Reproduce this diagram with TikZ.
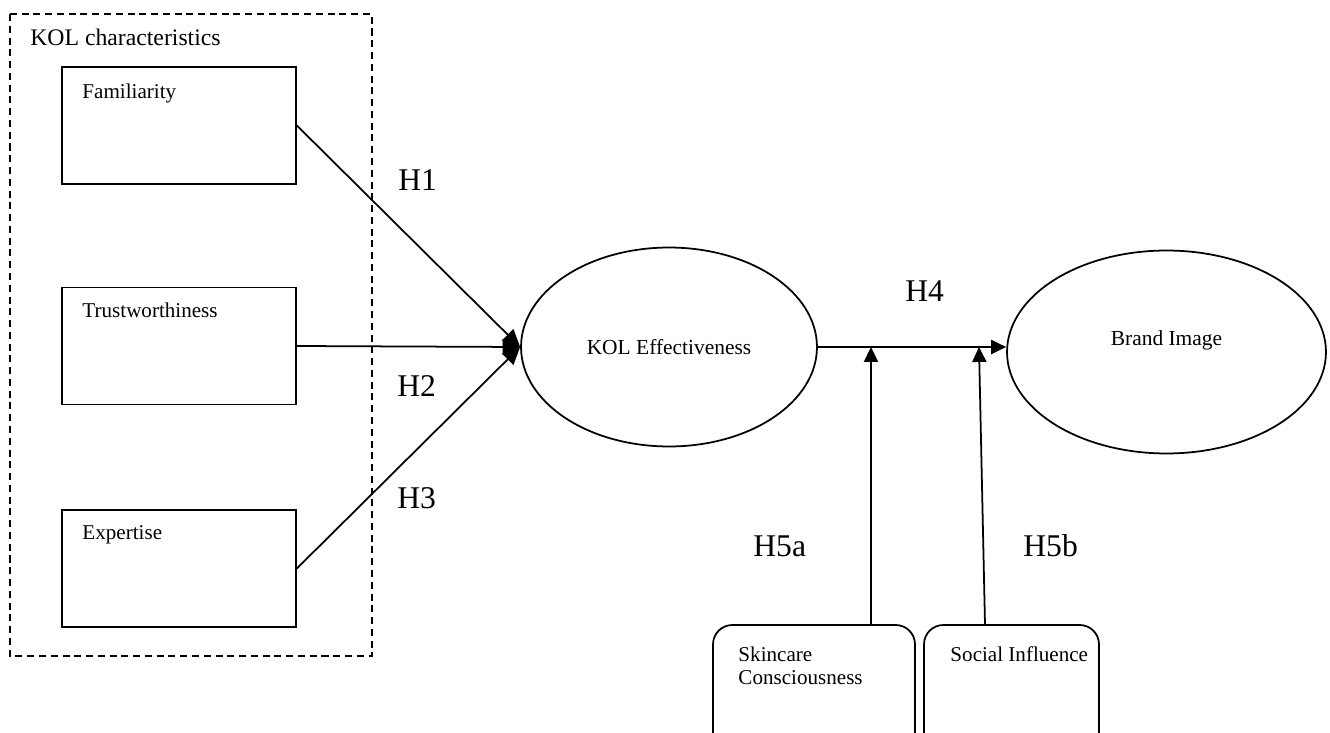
\documentclass[tikz,border=0pt]{standalone}
\usepackage{fontspec}
\setmainfont{Liberation Serif}
\usetikzlibrary{shapes.geometric,arrows.meta}

\begin{document}
\begin{tikzpicture}[x=0.02cm,y=-0.02cm]
    \tikzstyle{kolbox}=[draw,line width=1pt,minimum width=4.68cm,minimum height=2.34cm,inner sep=0pt]
    \tikzstyle{modbox}=[draw,line width=1pt,rounded corners=11pt,minimum height=2.6cm,inner sep=0pt]
    \tikzstyle{construct}=[draw,ellipse,line width=1pt,inner sep=0pt]
    \tikzstyle{boxtext}=[anchor=base west,inner sep=0pt,align=left,font=\fontsize{12}{13}\selectfont]
    \tikzstyle{hyp}=[anchor=base west,inner sep=0pt,font=\fontsize{18}{20}\selectfont]
    \tikzstyle{vectors}=[-{Triangle[length=8.5pt,width=8pt]},line width=1pt]
    \tikzstyle{cvectors}=[-{Triangle[length=10pt,width=9pt]},line width=1pt]
    \useasboundingbox (0,0) rectangle (1330,733);
    \clip (0,0) rectangle (1330,733);

    % KOL characteristics
    \draw[line width=1pt,dash pattern=on 4pt off 2.7pt] (10,14) rectangle (372,656);
    \node[anchor=base west,inner sep=0pt,font=\fontsize{13.5}{15}\selectfont] (kolchar) at (30,46) {KOL characteristics};
    \node[kolbox] (fam) at (179,125.5) {};
    \node[kolbox] (trust) at (179,346) {};
    \node[kolbox] (exp) at (179,568.5) {};
    \node[boxtext] (famtxt) at ([shift={(21,32)}]fam.north west) {Familiarity};
    \node[boxtext] (trusttxt) at ([shift={(21,31)}]trust.north west) {Trustworthiness};
    \node[boxtext] (exptxt) at ([shift={(21,30)}]exp.north west) {Expertise};

    % constructs
    \node[construct,minimum width=5.92cm,minimum height=3.98cm,font=\fontsize{12.2}{13.5}\selectfont] (kole) at (669,347) {KOL Effectiveness};
    \node[construct,minimum width=6.38cm,minimum height=4.06cm] (brand) at (1166.5,352) {};
    \node[inner sep=0pt,font=\fontsize{12.2}{13.5}\selectfont] (brandtxt) at ([shift={(0,-12)}]brand.center) {Brand Image};

    % moderators
    \node[modbox,minimum width=4.04cm] (skin) at (814,690) {};
    \node[modbox,minimum width=3.5cm] (soc) at (1011.5,690) {};
    \node[boxtext] (skintxt) at ([shift={(26,60)}]skin.north west) {Skincare\\Consciousness};
    \node[boxtext] (soctxt) at ([shift={(27,37)}]soc.north west) {Social Influence};

    \draw[cvectors] (fam.east) -- (kole.west);
    \draw[cvectors] (trust.east) -- (kole.west);
    \draw[cvectors] (exp.east) -- (kole.west);
    \draw[vectors] (kole.east) -- (kole.east -| brand.west);
    \draw[vectors] (skin.north -| 871,0) -- (871,0 |- kole.east);
    \draw[vectors] (soc.north -| 985,0) -- (979,0 |- kole.east);

    \node[hyp] (h1) at (398,191) {H1};
    \node[hyp] (h2) at (397,397) {H2};
    \node[hyp] (h3) at (397,508) {H3};
    \node[hyp] (h4) at (905,302) {H4};
    \node[hyp] (h5a) at (753,557) {H5a};
    \node[hyp] (h5b) at (1023,557) {H5b};
\end{tikzpicture}
\end{document}
